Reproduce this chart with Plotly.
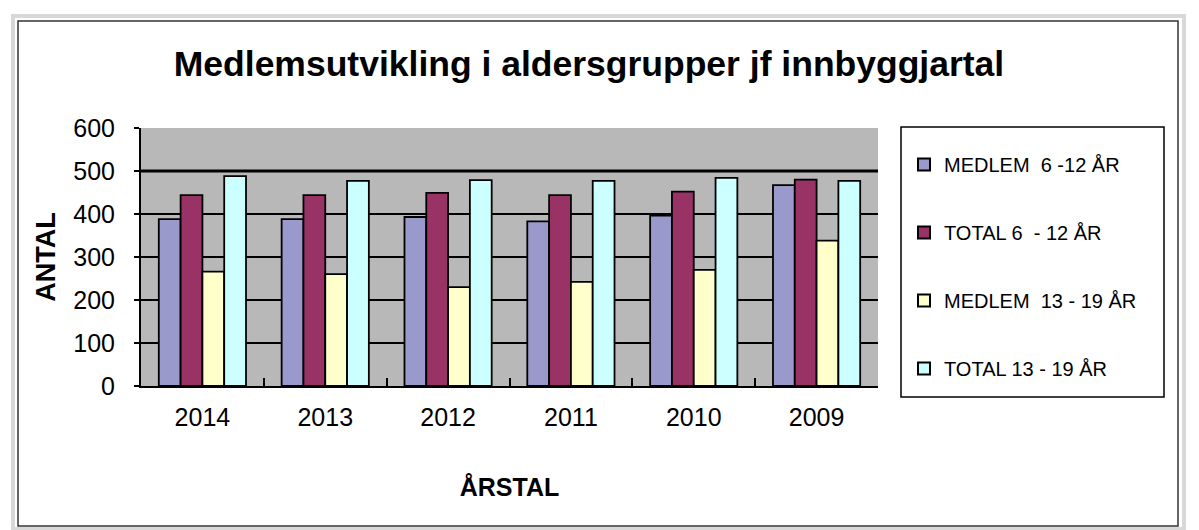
import plotly.graph_objects as go

years = ["2014", "2013", "2012", "2011", "2010", "2009"]
medlem_6_12 = [388, 388, 393, 383, 396, 467]
total_6_12 = [444, 444, 449, 444, 452, 480]
medlem_13_19 = [266, 260, 230, 242, 270, 338]
total_13_19 = [488, 477, 479, 477, 484, 477]

series_names = ["MEDLEM  6 -12 ÅR", "TOTAL 6  - 12 ÅR", "MEDLEM  13 - 19 ÅR", "TOTAL 13 - 19 ÅR"]
series_values = [medlem_6_12, total_6_12, medlem_13_19, total_13_19]
colors = ["#9999CC", "#993366", "#FFFFCC", "#CCFFFF"]

W, H = 1199, 530
L, R, T, B = 141, 878, 128, 386
pw, ph = R - L, B - T


def px(x):
    return (x - L) / pw


def py(y):
    return (B - y) / ph


fig = go.Figure()
for i, (name, vals, c) in enumerate(zip(series_names, series_values, colors)):
    fig.add_trace(go.Bar(
        x=years, y=vals, name=name,
        marker=dict(color=c, line=dict(color="black", width=1.8)),
        legendgroup=f"g{i}",
    ))

shapes = [
    # outer frame shadow
    dict(type="rect", xref="paper", yref="paper",
         x0=px(13), x1=px(1184), y0=py(16), y1=py(529),
         line=dict(color="#D8D8D8", width=4), layer="below"),
    # chart area border
    dict(type="rect", xref="paper", yref="paper",
         x0=px(18), x1=px(1178), y0=py(21), y1=py(526),
         line=dict(color="#333333", width=1.5), layer="below"),
    # legend box
    dict(type="rect", xref="paper", yref="paper",
         x0=px(901), x1=px(1164), y0=py(127), y1=py(397),
         line=dict(color="black", width=1.5), fillcolor="white", layer="below"),
    # heavier 500 gridline
    dict(type="line", xref="paper", yref="y", x0=0, x1=1, y0=500, y1=500,
         line=dict(color="black", width=3), layer="between"),
]

fig.update_layout(
    width=W, height=H,
    margin=dict(l=L, r=W - R, t=T, b=H - B),
    paper_bgcolor="white",
    plot_bgcolor="#B8B8B8",
    barmode="group",
    bargap=0.29,
    bargroupgap=0,
    font=dict(family="Liberation Sans, Arial, sans-serif", color="black"),
    title=dict(text="<b>Medlemsutvikling i aldersgrupper jf innbyggjartal</b>",
               x=px(589), xanchor="center", xref="paper",
               y=1 - 64 / H, yanchor="middle",
               font=dict(size=35.5, color="black")),
    showlegend=True,
    legend=dict(x=px(904), xanchor="left", y=py(145), yanchor="top",
                bgcolor="rgba(0,0,0,0)", borderwidth=0,
                tracegroupgap=39, font=dict(size=20, color="black"),
                itemsizing="constant"),
    xaxis=dict(
        showline=True, linecolor="black", linewidth=2,
        ticks="inside", tickson="boundaries", ticklen=8, tickcolor="black", tickwidth=2,
        tickfont=dict(size=25, color="black"),
        ticklabelstandoff=8,
        title=dict(text="<b>ÅRSTAL</b>", font=dict(size=25, color="black"), standoff=48),
        showgrid=False,
    ),
    yaxis=dict(
        range=[0, 600], dtick=100,
        showline=True, linecolor="black", linewidth=2,
        ticks="outside", ticklen=5, tickcolor="black", tickwidth=1.5,
        tickfont=dict(size=25, color="black"),
        ticklabelstandoff=14,
        showgrid=True, gridcolor="black", gridwidth=2,
        zeroline=False,
        title=dict(text="<b>ANTAL</b>", font=dict(size=27, color="black"), standoff=10),
    ),
    shapes=shapes,
)

fig.write_html("out.html", config={"displayModeBar": False},
               post_script="document.body.style.margin='0';")
